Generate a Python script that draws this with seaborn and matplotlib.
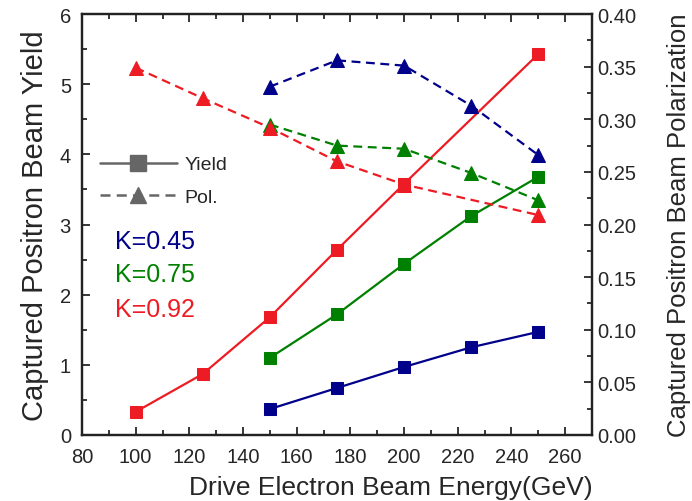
import numpy as np
import pandas as pd
import seaborn as sns
import matplotlib
matplotlib.use('Agg')
import matplotlib.pyplot as plt
from matplotlib.lines import Line2D
from matplotlib.ticker import MultipleLocator, FormatStrFormatter

# data
energy_045 = [150, 175, 200, 225, 250]
yield_045 = [0.37, 0.67, 0.97, 1.25, 1.47]
pol_045 = [0.331, 0.356, 0.351, 0.313, 0.266]

energy_075 = [150, 175, 200, 225, 250]
yield_075 = [1.10, 1.72, 2.44, 3.12, 3.68]
pol_075 = [0.295, 0.275, 0.272, 0.249, 0.223]

energy_092 = [100, 125, 150, 175, 200, 250]
yield_092 = [0.33, 0.87, 1.68, 2.64, 3.58, 5.43]
energy_092_pol = [100, 125, 150, 175, 200, 250]
pol_092 = [0.349, 0.320, 0.292, 0.260, 0.238, 0.209]

k_labels = ['K=0.45', 'K=0.75', 'K=0.92']
colors = ['#00008B', '#008000', '#ED1C24']

sns.set_style('ticks')
plt.rcParams['font.family'] = ['Liberation Sans', 'DejaVu Sans']
plt.rcParams['xtick.direction'] = 'in'
plt.rcParams['ytick.direction'] = 'in'

fig = plt.figure(figsize=(6.92, 5.02), dpi=100)
ax = fig.add_axes([0.1185, 0.1315, 0.7370, 0.8385])
ax2 = ax.twinx()

yields = [(energy_045, yield_045), (energy_075, yield_075), (energy_092, yield_092)]
pols = [(energy_045, pol_045), (energy_075, pol_075), (energy_092_pol, pol_092)]

for (x, y), c in zip(yields, colors):
    sns.lineplot(x=x, y=y, ax=ax, color=c, marker='s', markersize=8.5,
                 markeredgecolor=c, linewidth=1.6, zorder=3)
for (x, y), c in zip(pols, colors):
    sns.lineplot(x=x, y=y, ax=ax2, color=c, marker='^', markersize=9.5,
                 markeredgecolor=c, linewidth=1.6, linestyle=(0, (4, 2.5)), zorder=3)

ax.set_xlim(80, 270)
ax.set_ylim(0, 6)
ax2.set_ylim(0, 0.4)
ax.xaxis.set_major_locator(MultipleLocator(20))
ax.xaxis.set_minor_locator(MultipleLocator(10))
ax.yaxis.set_major_locator(MultipleLocator(1))
ax.yaxis.set_minor_locator(MultipleLocator(0.5))
ax2.yaxis.set_major_locator(MultipleLocator(0.05))
ax2.yaxis.set_minor_locator(MultipleLocator(0.025))
ax2.yaxis.set_major_formatter(FormatStrFormatter('%.2f'))

ax.tick_params(axis='both', which='major', length=6, width=1.3, labelsize=14.5, top=True)
ax.tick_params(axis='both', which='minor', length=3.5, width=1.3, top=True)
ax.tick_params(axis='x', which='major', pad=9)
ax.tick_params(axis='y', which='major', pad=8)
ax.tick_params(axis='y', which='both', right=False)
ax2.tick_params(axis='y', which='major', length=6, width=1.3, labelsize=14.5, pad=4)
ax2.tick_params(axis='y', which='minor', length=3.5, width=1.3)
for a in (ax, ax2):
    for s in a.spines.values():
        s.set_linewidth(1.6)
        s.set_color('#222222')

ax.set_xlabel('Drive Electron Beam Energy(GeV)', fontsize=19, labelpad=6)
ax.xaxis.label.set_x(0.605)
ax.set_ylabel('Captured Positron Beam Yield', fontsize=21, labelpad=8)
ax2.set_ylabel('Captured Positron Beam Polarization', fontsize=18.5, labelpad=22)

handles = [Line2D([], [], color='#666666', marker='s', markersize=11, linewidth=1.8),
           Line2D([], [], color='#666666', marker='^', markersize=12, linewidth=1.8,
                  linestyle=(0, (4, 2.5)))]
ax.legend(handles, ['Yield', 'Pol.'], loc='upper left', bbox_to_anchor=(0.0, 0.705),
          frameon=False, fontsize=14, handlelength=4.0, handletextpad=0.35,
          labelspacing=0.75)

k_y = [0.461, 0.382, 0.299]
for lab, c, yy in zip(k_labels, colors, k_y):
    ax.text(0.064, yy, lab, color=c, fontsize=18,
            transform=ax.transAxes, va='center', ha='left')

fig.savefig('out.png', dpi=100)
